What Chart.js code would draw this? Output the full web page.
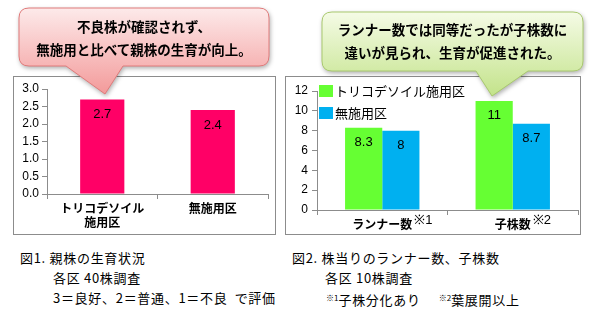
<!DOCTYPE html>
<html>
<head>
<meta charset="utf-8">
<script src="https://cdn.jsdelivr.net/npm/chart.js@4.4.1/dist/chart.umd.min.js"></script>
<style>
body{margin:0;background:#fff;width:592px;height:314px;position:relative;overflow:hidden;
  font-family:"Noto Sans CJK JP","Noto Sans",sans-serif;}
.box{position:absolute;border:1px solid #8c8c8c;box-sizing:border-box;background:#fff;}
#box1{left:13px;top:76px;width:263px;height:159px;}
#box2{left:285px;top:76px;width:296px;height:159px;}
.box canvas{display:block;}
svg.callout{position:absolute;left:0;top:0;filter:drop-shadow(1px 2px 2px rgba(0,0,0,0.3));}
.cap{position:absolute;font-size:13px;letter-spacing:0.7px;color:#000;white-space:nowrap;line-height:14px;}
.ctext{position:absolute;font-weight:bold;font-size:13.5px;color:#000;text-align:center;line-height:23px;white-space:nowrap;}
sup{font-size:8px;vertical-align:4px;letter-spacing:0;}
</style>
</head>
<body>
<div class="box" id="box1"><canvas id="chart1" width="261" height="157"></canvas></div>
<div class="box" id="box2"><canvas id="chart2" width="294" height="157"></canvas></div>

<svg class="callout" width="592" height="110">
  <defs>
    <linearGradient id="gPink" x1="0" y1="0" x2="0" y2="1">
      <stop offset="0" stop-color="#fdeaea"/>
      <stop offset="1" stop-color="#f39a9a"/>
    </linearGradient>
    <linearGradient id="gGreen" x1="0" y1="0" x2="0" y2="1">
      <stop offset="0" stop-color="#f5fbe6"/>
      <stop offset="1" stop-color="#c3e38a"/>
    </linearGradient>
  </defs>
  <path d="M29,8 H259 Q269,8 269,18 V56 Q269,66 259,66 H123 L105,94 L66,66 H29 Q19,66 19,56 V18 Q19,8 29,8 Z"
        fill="url(#gPink)" stroke="#e07a7a" stroke-width="1"/>
  <path d="M332,12 H573 Q583,12 583,22 V61 Q583,71 573,71 H528 L492,96 L476,71 H332 Q322,71 322,61 V22 Q322,12 332,12 Z"
        fill="url(#gGreen)" stroke="#a9c96e" stroke-width="1"/>
</svg>

<div class="ctext" style="left:19px;top:15px;width:250px;">不良株が確認されず、<br>無施用と比べて親株の生育が向上。</div>
<div class="ctext" style="left:322px;top:18px;width:261px;">ランナー数では同等だったが子株数に<br>違いが見られ、生育が促進された。</div>

<div class="cap" style="left:20px;top:251px;">図1. 親株の生育状況</div>
<div class="cap" style="left:53px;top:271px;">各区 40株調査</div>
<div class="cap" style="left:53px;top:291px;">3＝良好、2＝普通、1＝不良&nbsp; で評価</div>
<div class="cap" style="left:292px;top:251px;">図2. 株当りのランナー数、子株数</div>
<div class="cap" style="left:325px;top:271px;">各区 10株調査</div>
<div class="cap" style="left:326px;top:291px;"><sup>※1</sup>子株分化あり&nbsp;&nbsp;&nbsp;&nbsp;&nbsp;<sup>※2</sup>葉展開以上</div>

<script>
// figure 1 : parent plant growth score
var cats1 = [["トリコデソイル", "施用区"], "無施用区"];
var growth = [2.7, 2.4];

// figure 2 : runners and daughter plants per plant
var cats2 = ["ランナー数", "子株数"];
var notes2 = ["※1", "※2"];
var seriesNames = ["トリコデソイル施用区", "無施用区"];
var treated = [8.3, 11];
var untreated = [8, 8.7];

var numFont = {family: "Arial, 'Liberation Sans', sans-serif", size: 12};
var jpBold = {family: "'Noto Sans CJK JP', sans-serif", size: 12, weight: "bold"};

// value labels inside bar tops
var valueLabels = {
	id: "valueLabels",
	afterDatasetsDraw: function(chart){
		var ctx = chart.ctx;
		ctx.save();
		ctx.font = "13px Arial, 'Liberation Sans', sans-serif";
		ctx.fillStyle = "#000";
		ctx.textAlign = "center";
		ctx.textBaseline = "middle";
		chart.data.datasets.forEach(function(ds, di){
			var meta = chart.getDatasetMeta(di);
			meta.data.forEach(function(bar, i){
				ctx.fillText(String(ds.data[i]), bar.x, bar.y + 15);
			});
		});
		ctx.restore();
	}
};

// legend drawn inside the plot, top-left
var innerLegend = {
	id: "innerLegend",
	afterDraw: function(chart){
		var ctx = chart.ctx;
		var x = chart.chartArea.left + 2;
		var y = chart.chartArea.top - 6;
		ctx.save();
		ctx.font = "13px 'Noto Sans CJK JP', sans-serif";
		ctx.textBaseline = "middle";
		ctx.textAlign = "left";
		chart.data.datasets.forEach(function(ds, di){
			var yy = y + di * 22;
			ctx.fillStyle = ds.backgroundColor;
			ctx.fillRect(x, yy, 14, 12);
			ctx.fillStyle = "#000";
			ctx.fillText(ds.label, x + 16, yy + 6);
		});
		ctx.restore();
	}
};

// superscript notes after x labels
var xNotes = {
	id: "xNotes",
	afterDraw: function(chart){
		var ctx = chart.ctx;
		var xs = chart.scales.x;
		ctx.save();
		var base = xs.top + 16;
		cats2.forEach(function(c, i){
			ctx.font = "bold 12px 'Noto Sans CJK JP', sans-serif";
			var w = ctx.measureText(c).width;
			var cx = xs.getPixelForValue(i);
			ctx.font = "13px Arial, 'Liberation Sans', sans-serif";
			ctx.fillStyle = "#000";
			ctx.textBaseline = "alphabetic";
			ctx.textAlign = "left";
			ctx.fillText(notes2[i], cx + w / 2 + 2, base - 2);
		});
		ctx.restore();
	}
};

function axisGrid(){
	return {display: true, drawOnChartArea: false, drawTicks: true, tickLength: 5, color: "#8c8c8c"};
}

new Chart(document.getElementById("chart1"), {
	type: "bar",
	data: {
		labels: cats1,
		datasets: [{data: growth, backgroundColor: "#ff0066", barPercentage: 1, categoryPercentage: 0.4}]
	},
	options: {
		responsive: false, animation: false, devicePixelRatio: 1,
		layout: {padding: {top: 12, right: 7, left: 0, bottom: 0}},
		plugins: {legend: {display: false}, tooltip: {enabled: false}},
		scales: {
			y: {
				min: 0, max: 3,
				ticks: {stepSize: 0.5, autoSkip: false, color: "#000", font: numFont, padding: 3,
					callback: function(v){ return v.toFixed(1); }},
				grid: axisGrid(),
				border: {color: "#8c8c8c"},
				afterFit: function(s){ s.width = 33; }
			},
			x: {
				ticks: {color: "#000", font: jpBold, padding: 2, maxRotation: 0, autoSkip: false},
				grid: axisGrid(),
				border: {color: "#8c8c8c"},
				afterFit: function(s){ s.height = 40; }
			}
		}
	},
	plugins: [valueLabels]
});

new Chart(document.getElementById("chart2"), {
	type: "bar",
	data: {
		labels: cats2,
		datasets: [
			{label: seriesNames[0], data: treated, backgroundColor: "#66ff33", barPercentage: 1, categoryPercentage: 0.57},
			{label: seriesNames[1], data: untreated, backgroundColor: "#00b0f0", barPercentage: 1, categoryPercentage: 0.57}
		]
	},
	options: {
		responsive: false, animation: false, devicePixelRatio: 1,
		layout: {padding: {top: 14, right: 2, left: 0, bottom: 0}},
		plugins: {legend: {display: false}, tooltip: {enabled: false}},
		scales: {
			y: {
				min: 0, max: 12,
				ticks: {stepSize: 2, autoSkip: false, color: "#000", font: numFont, padding: 4},
				grid: axisGrid(),
				border: {color: "#8c8c8c"},
				afterFit: function(s){ s.width = 31; }
			},
			x: {
				ticks: {color: "#000", font: jpBold, padding: 2, maxRotation: 0, autoSkip: false},
				grid: axisGrid(),
				border: {color: "#8c8c8c"},
				afterFit: function(s){ s.height = 24; }
			}
		}
	},
	plugins: [valueLabels, innerLegend, xNotes]
});
</script>
</body>
</html>
